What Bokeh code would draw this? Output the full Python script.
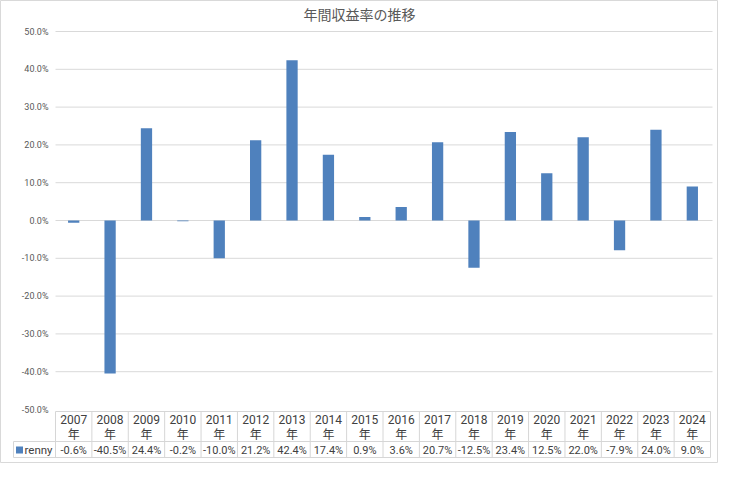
from bokeh.plotting import figure
from bokeh.models import ColumnDataSource, Range1d, LinearAxis, FixedTicker
from bokeh.core.properties import value
from bokeh.embed import file_html
from bokeh.resources import INLINE

# ---- data ----
years = ["2007", "2008", "2009", "2010", "2011", "2012", "2013", "2014", "2015",
         "2016", "2017", "2018", "2019", "2020", "2021", "2022", "2023", "2024"]
returns_pct = [-0.6, -40.5, 24.4, -0.2, -10.0, 21.2, 42.4, 17.4, 0.9,
               3.6, 20.7, -12.5, 23.4, 12.5, 22.0, -7.9, 24.0, 9.0]
series_name = "renny"
title_text = "年間収益率の推移"
year_suffix = "年"
tick_values = [-0.5, -0.4, -0.3, -0.2, -0.1, 0.0, 0.1, 0.2, 0.3, 0.4, 0.5]
tick_labels = ["-50.0%", "-40.0%", "-30.0%", "-20.0%", "-10.0%", "0.0%",
               "10.0%", "20.0%", "30.0%", "40.0%", "50.0%"]

# ---- layout constants (canvas pixels) ----
W, H = 718, 463
CAT_LEFT = 55.0          # left edge of first category
CAT_W = 36.39            # width of one category
TOP_PX = 31.0            # pixel row of 50%
UNIT_PX = 378.0          # pixels per 1.0 (100%)


def X(px):
    return (px - CAT_LEFT) / CAT_W


def Y(py):
    return 0.5 - (py - TOP_PX) / UNIT_PX


n = len(years)
xc = [i + 0.5 for i in range(n)]
frac = [v / 100.0 for v in returns_pct]

TEXT = "#404040"
GRAY = "#595959"
LINE = "#d6d6d6"
BAR = "#4f81bd"

p = figure(width=W, height=H, output_backend="svg", toolbar_location=None,
           x_range=Range1d(X(0), X(W)), y_range=Range1d(Y(H), Y(0)),
           x_axis_type=None, y_axis_type=None,
           min_border_left=0, min_border_right=0, min_border_top=0, min_border_bottom=0)
p.xgrid.visible = False
p.ygrid.visible = False
p.outline_line_color = "#d9d9d9"
p.outline_line_width = 1
p.background_fill_color = "white"
p.border_fill_color = "white"

# y axis placed at category start
yaxis = LinearAxis(fixed_location=0)
yaxis.ticker = FixedTicker(ticks=tick_values)
yaxis.major_label_overrides = dict(zip(tick_values, tick_labels))
yaxis.axis_line_color = None
yaxis.major_tick_line_color = None
yaxis.minor_tick_line_color = None
yaxis.major_tick_in = 0
yaxis.major_tick_out = 0
yaxis.major_label_standoff = 7
yaxis.major_label_text_font = "Roboto"
yaxis.major_label_text_font_size = "9px"
yaxis.major_label_text_color = GRAY
p.add_layout(yaxis, "left")

# gridlines (not at -50%, which is the table top)
grid_y = [t for t in tick_values if t > -0.5]
p.segment(x0=[0] * len(grid_y), x1=[X(712)] * len(grid_y), y0=grid_y, y1=grid_y,
          line_color="#d9d9d9", line_width=1)

# bars
src = ColumnDataSource(dict(x=xc, top=frac))
p.vbar(x="x", top="top", bottom=0, width=0.31, source=src,
       fill_color=BAR, line_color=None)

# ---- data table ----
t_top, t_mid, t_bot = Y(411), Y(441), Y(457)
leg_left = X(13)
p.segment(x0=[0, leg_left, leg_left], x1=[n, n, n], y0=[t_top, t_mid, t_bot],
          y1=[t_top, t_mid, t_bot], line_color=LINE, line_width=1)
p.segment(x0=list(range(n + 1)), x1=list(range(n + 1)),
          y0=[t_top] * (n + 1), y1=[t_bot] * (n + 1), line_color=LINE, line_width=1)
p.segment(x0=[leg_left], x1=[leg_left], y0=[t_mid], y1=[t_bot],
          line_color=LINE, line_width=1)

p.text(x=xc, y=[Y(419)] * n, text=years, text_align="center", text_baseline="middle",
       text_font=value("Roboto"), text_font_size="12px", text_color=TEXT)
p.text(x=xc, y=[Y(433)] * n, text=[year_suffix] * n, text_align="center",
       text_baseline="middle", text_font=value("Noto Sans CJK JP"),
       text_font_size="12px", text_color=TEXT)
labels = [f"{v:.1f}%" for v in returns_pct]
p.text(x=xc, y=[Y(449.5)] * n, text=labels, text_align="center", text_baseline="middle",
       text_font=value("Roboto"), text_font_size="11px", text_color=TEXT)

# legend key in table
p.scatter(x=[X(19)], y=[Y(449.5)], marker="square", size=7,
          fill_color=BAR, line_color=None)
p.text(x=[X(24)], y=[Y(449.5)], text=[series_name], text_align="left",
       text_baseline="middle", text_font=value("Roboto"), text_font_size="11.5px",
       text_color=TEXT)

# title
p.text(x=[X(W / 2)], y=[Y(13)], text=[title_text], text_align="center",
       text_baseline="middle", text_font=value("Noto Sans CJK JP"),
       text_font_size="14px", text_color=GRAY)

open("out.html", "w").write(file_html(p, INLINE))
